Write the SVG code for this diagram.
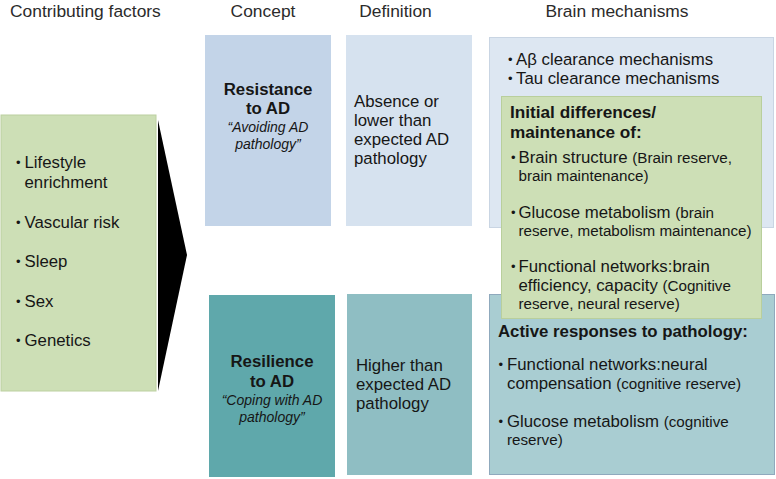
<svg xmlns="http://www.w3.org/2000/svg" width="776" height="479" viewBox="0 0 776 479">
<style>
text{font-family:"Liberation Sans",Arial,sans-serif;fill:#161616}
.hd{font-size:17.4px;fill:#2b2b2b}
.t{font-size:16.8px}
.b{font-weight:bold;font-size:16.8px}
.i{font-style:italic;font-size:14px;font-weight:normal}
.s{font-size:15.2px}
.u{font-size:13px}
.c{text-anchor:middle}
</style>
<rect width="776" height="479" fill="#fff"/>
<g id="headers">
<text class="hd" x="10" y="16.5">Contributing factors</text>
<text class="hd c" x="263" y="16.5">Concept</text>
<text class="hd c" x="395.5" y="16.5">Definition</text>
<text class="hd c" x="617" y="16.5">Brain mechanisms</text>
</g>
<g id="factors">
<rect x="1" y="115" width="155" height="276" fill="#cddfb6" stroke="#bcd0a0" stroke-width="1"/>
<text class="t"><tspan class="u" x="16" y="167">•</tspan><tspan x="24.5" y="168">Lifestyle</tspan><tspan x="24.5" y="188">enrichment</tspan></text>
<text class="t"><tspan class="u" x="16" y="227">•</tspan><tspan x="24.5" y="228">Vascular risk</tspan></text>
<text class="t"><tspan class="u" x="16" y="266">•</tspan><tspan x="24.5" y="267">Sleep</tspan></text>
<text class="t"><tspan class="u" x="16" y="306">•</tspan><tspan x="24.5" y="307">Sex</tspan></text>
<text class="t"><tspan class="u" x="16" y="345">•</tspan><tspan x="24.5" y="346">Genetics</tspan></text>
</g>
<g id="connectors">
<polygon points="158,120 187,255 158,391" fill="#000"/>
</g>
<g id="resistance">
<rect x="205" y="35" width="126" height="191" fill="#c3d4e8"/>
<text class="c"><tspan class="b" x="268" y="94.5">Resistance</tspan><tspan class="b" x="268" y="113.5">to AD</tspan><tspan class="i" x="268" y="132">“Avoiding AD</tspan><tspan class="i" x="268" y="148.5">pathology”</tspan></text>
</g>
<g id="resistance-def">
<rect x="346" y="35" width="126" height="191" fill="#d6e2ef"/>
<text class="t"><tspan x="354" y="107">Absence or</tspan><tspan x="354" y="126">lower than</tspan><tspan x="354" y="145">expected AD</tspan><tspan x="354" y="164">pathology</tspan></text>
</g>
<g id="resilience">
<rect x="209" y="295" width="126" height="182" fill="#5fa8ab"/>
<text class="c"><tspan class="b" x="272" y="367">Resilience</tspan><tspan class="b" x="272" y="387">to AD</tspan><tspan class="i" x="272" y="405">“Coping with AD</tspan><tspan class="i" x="272" y="422">pathology”</tspan></text>
</g>
<g id="resilience-def">
<rect x="347" y="294" width="125" height="181" fill="#8fbec3"/>
<text class="t"><tspan x="356" y="371">Higher than</tspan><tspan x="356" y="390">expected AD</tspan><tspan x="356" y="409">pathology</tspan></text>
</g>
<g id="clearance">
<rect x="489.5" y="37.5" width="284" height="190" fill="#dde7f2" stroke="#c9d5e3" stroke-width="1"/>
<text class="t"><tspan class="u" x="508" y="63.5">•</tspan><tspan x="516" y="64.5">Aβ clearance mechanisms</tspan><tspan class="u" x="508" y="82.5">•</tspan><tspan x="516" y="83.5">Tau clearance mechanisms</tspan></text>
</g>
<g id="active">
<rect x="489.5" y="294.5" width="285" height="180" fill="#a9cdd2" stroke="#8fa9bd" stroke-width="1"/>
<text class="b" x="498" y="337">Active responses to pathology:</text>
<text class="t"><tspan class="u" x="498.5" y="369">•</tspan><tspan x="507" y="370">Functional networks:neural</tspan><tspan x="507" y="389">compensation </tspan><tspan class="s">(cognitive reserve)</tspan></text>
<text class="t"><tspan class="u" x="498.5" y="426">•</tspan><tspan x="507" y="427">Glucose metabolism </tspan><tspan class="s">(cognitive</tspan><tspan class="s" x="507" y="444.5">reserve)</tspan></text>
</g>
<g id="initial">
<rect x="501.5" y="96.5" width="260" height="222" fill="#cddfb6" stroke="#b9cf9c" stroke-width="1"/>
<text class="b"><tspan x="510" y="118" style="font-size:17.2px">Initial differences/</tspan><tspan x="510" y="138" style="font-size:17.2px">maintenance of:</tspan></text>
<text class="t"><tspan class="u" x="511" y="162">•</tspan><tspan x="518.5" y="163">Brain structure </tspan><tspan class="s">(Brain reserve,</tspan><tspan class="s" x="518.5" y="181">brain maintenance)</tspan></text>
<text class="t"><tspan class="u" x="511" y="217">•</tspan><tspan x="518.5" y="218">Glucose metabolism </tspan><tspan class="s">(brain</tspan><tspan class="s" x="518.5" y="235.5">reserve, metabolism maintenance)</tspan></text>
<text class="t"><tspan class="u" x="511" y="271">•</tspan><tspan x="518.5" y="272">Functional networks:brain</tspan><tspan x="518.5" y="291">efficiency, capacity </tspan><tspan class="s">(Cognitive</tspan><tspan class="s" x="518.5" y="308.5">reserve, neural reserve)</tspan></text>
</g>
</svg>
